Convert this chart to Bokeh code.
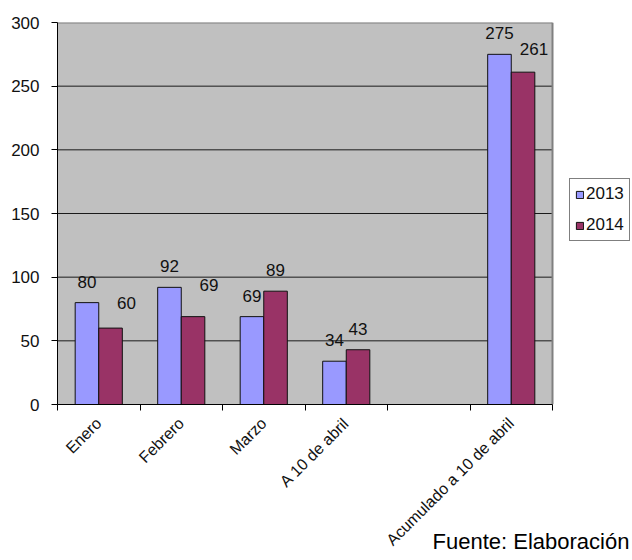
import math
from bokeh.plotting import figure
from bokeh.models import (Range1d, FixedTicker, ColumnDataSource, LabelSet,
                          Legend, LegendItem, LinearAxis)
from bokeh.core.properties import value
from bokeh.embed import file_html
from bokeh.resources import INLINE

# ---- data ----
categories = ["Enero", "Febrero", "Marzo", "A 10 de abril", "", "Acumulado a 10 de abril"]
series_names = ["2013", "2014"]
values_2013 = [80, 92, 69, 34, None, 275]
values_2014 = [60, 69, 89, 43, None, 261]
y_ticks = [0, 50, 100, 150, 200, 250, 300]
source_note = "Fuente: Elaboración"

# ---- layout / style ----
W, H = 632, 560
left_px, top_px = 57, 22
plot_w_px, plot_h_px = 495, 382      # grey plotting area
colors = ["#9999FF", "#993366"]
font = "Liberation Sans"
fs = "17px"
fs_cat = "16px"
bar_w = 1 / 3.5
label_gap = 21  # px above bar top
nudge_x_2014 = [16, 16, 0, 0, 0, 11]
nudge_y_2014 = [4, 11, 0, 0, 0, 2]
note_left_px = 432                    # page x where the source note starts
note_font_px = 22

n = len(categories)
px_per_cat = plot_w_px / n
x_end = n * (W - left_px) / plot_w_px   # frame extends to the right edge (legend area)

p = figure(width=W, height=H, output_backend="svg", toolbar_location=None,
           x_range=Range1d(0, x_end), y_range=Range1d(y_ticks[0], y_ticks[-1]),
           min_border_left=left_px, min_border_right=0, min_border_top=top_px,
           min_border_bottom=H - top_px - plot_h_px)
p.background_fill_color = "white"
p.border_fill_color = "white"
p.outline_line_color = None
p.xgrid.visible = False
p.ygrid.visible = False

# grey plot area, grid lines and border
p.quad(left=0, right=n, bottom=y_ticks[0], top=y_ticks[-1],
       fill_color="#C0C0C0", line_color=None)
inner = y_ticks[1:-1]
p.segment(x0=[0] * len(inner), x1=[n] * len(inner), y0=inner, y1=inner,
          line_color="#1a1a1a", line_width=1)
p.segment(x0=[0, n], x1=[n, n], y0=[y_ticks[-1], y_ticks[0]], y1=[y_ticks[-1], y_ticks[-1]],
          line_color="#808080", line_width=2)

renderers = []
for s, (vals, col) in enumerate(zip([values_2013, values_2014], colors)):
    idx = [i for i, v in enumerate(vals) if v is not None]
    xs = [i + 0.5 + (s - 0.5) * bar_w for i in idx]
    ys = [vals[i] for i in idx]
    if s == 0:
        dx = [0 for i in idx]
        dy = [label_gap for i in idx]
    else:
        dx = [nudge_x_2014[i] for i in idx]
        dy = [label_gap + nudge_y_2014[i] for i in idx]
    src = ColumnDataSource(dict(x=xs, top=ys, txt=[str(v) for v in ys], dx=dx, dy=dy))
    r = p.vbar(x="x", top="top", bottom=0, width=bar_w, source=src,
               fill_color=col, line_color="#111111", line_width=1)
    renderers.append(r)
    labels = LabelSet(x="x", y="top", text="txt", source=src, x_offset="dx", y_offset="dy",
                      text_align="center", text_baseline="middle",
                      text_font=value(font), text_font_size=value(fs),
                      text_color=value("#111111"))
    p.add_layout(labels)

# y axis
yax = p.yaxis[0]
yax.ticker = FixedTicker(ticks=y_ticks)
yax.minor_tick_line_color = None
yax.major_tick_out = 6
yax.major_tick_in = 0
yax.major_label_standoff = 12
yax.axis_line_color = "black"
yax.major_tick_line_color = "black"
yax.major_label_text_font_size = fs

# x axis (labels at category centres, tick marks at category boundaries)
xax = p.xaxis[0]
centers = [i + 0.5 for i in range(n)]
bounds = [i for i in range(n + 1)]
xax.ticker = FixedTicker(ticks=centers, minor_ticks=bounds)
xax.bounds = (0, n)
xax.major_label_overrides = {c: lab for c, lab in zip(centers, categories)}
xax.major_tick_line_color = None
xax.minor_tick_line_color = "black"
xax.minor_tick_out = 6
xax.minor_tick_in = 0
xax.major_label_orientation = math.pi / 4
xax.major_label_standoff = 10
xax.axis_line_color = "black"
xax.major_label_text_font_size = fs_cat

for ax in (xax, yax):
    ax.major_label_text_font = font
    ax.major_label_text_color = "#111111"

# source note, drawn as the single label of a bare second bottom axis
note_x = (note_left_px - left_px + note_font_px * 8.95 / 2) / px_per_cat
nax = LinearAxis(ticker=FixedTicker(ticks=[note_x], minor_ticks=[]),
                 major_label_overrides={note_x: source_note})
nax.axis_line_color = None
nax.major_tick_line_color = None
nax.minor_tick_line_color = None
nax.major_tick_out = 0
nax.major_tick_in = 0
nax.major_label_standoff = -29
nax.major_label_text_font = font
nax.major_label_text_font_size = f"{note_font_px}px"
nax.major_label_text_color = "black"
p.add_layout(nax, "below")

legend = Legend(items=[LegendItem(label=nm, renderers=[r]) for nm, r in zip(series_names, renderers)],
                location=(512, 163))
legend.label_text_font = font
legend.label_text_font_size = fs
legend.label_text_color = "#111111"
legend.glyph_width = 9
legend.glyph_height = 9
legend.label_height = 17
legend.label_standoff = 2
legend.padding = 5
legend.spacing = 11
legend.margin = 0
legend.border_line_color = "black"
legend.border_line_width = 1
legend.background_fill_color = "white"
legend.background_fill_alpha = 1
p.add_layout(legend)

open("out.html", "w").write(file_html(p, INLINE))
